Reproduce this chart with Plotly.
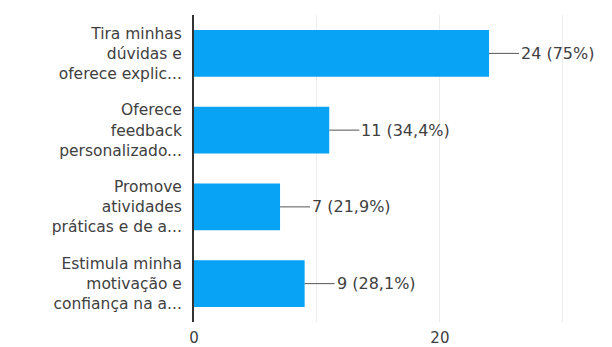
import plotly.graph_objects as go

categories = [
    "Tira minhas<br>dúvidas e<br>oferece explic...",
    "Oferece<br>feedback<br>personalizado...",
    "Promove<br>atividades<br>práticas e de a...",
    "Estimula minha<br>motivação e<br>confiança na a...",
]
values = [24, 11, 7, 9]
value_labels = ["24 (75%)", "11 (34,4%)", "7 (21,9%)", "9 (28,1%)"]

FONT = "DejaVu Sans, Verdana, sans-serif"
TXT = "#404040"

fig = go.Figure(go.Bar(
    x=values, y=categories, orientation="h",
    marker=dict(color="#08A3F4", line=dict(width=0)),
    width=0.61,
))

annotations = []
for c, v, t in zip(categories, values, value_labels):
    annotations.append(dict(
        x=v, y=c, xref="x", yref="y", text=t,
        showarrow=True, arrowhead=0, arrowwidth=1, arrowcolor="#555",
        ax=30, ay=0, xanchor="left", standoff=0,
        font=dict(family=FONT, size=16, color=TXT),
    ))

fig.update_layout(
    width=612, height=347,
    margin=dict(l=194, r=0, t=15, b=22),
    paper_bgcolor="white", plot_bgcolor="white",
    showlegend=False,
    annotations=annotations,
    xaxis=dict(
        range=[0, 34.0], dtick=20, tick0=0,
        showgrid=True, gridcolor="#ececec", gridwidth=1,
        minor=dict(dtick=10, showgrid=True, gridcolor="#ececec"),
        zeroline=False, showline=False,
        tickfont=dict(family=FONT, size=15, color=TXT),
        ticks="", ticklabelstandoff=5,
    ),
    yaxis=dict(
        autorange="reversed",
        showline=True, linecolor="#333", linewidth=2,
        showgrid=False, zeroline=False, ticks="",
        tickfont=dict(family=FONT, size=15.5, color=TXT),
        ticklabelstandoff=7,
    ),
)

fig.write_html("out.html", config={"displayModeBar": False},
               post_script="document.body.style.margin='0';")
